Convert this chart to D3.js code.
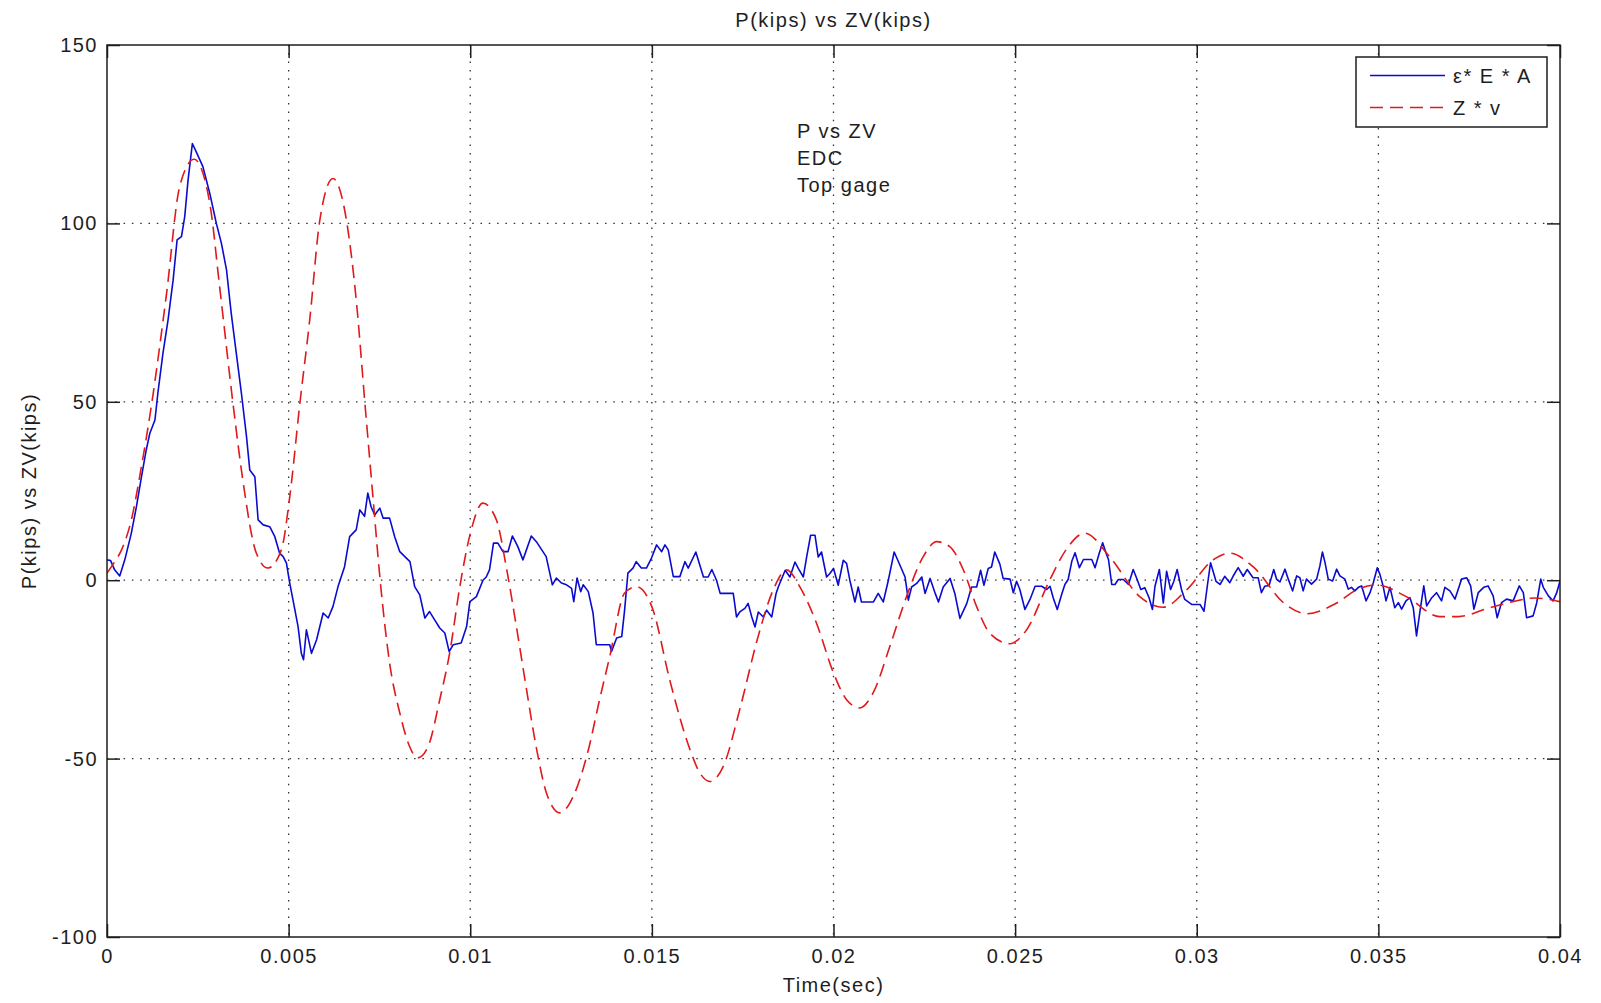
<!DOCTYPE html>
<html>
<head>
<meta charset="utf-8">
<script src="https://cdn.jsdelivr.net/npm/d3@7"></script>
<style>
  html, body { margin: 0; padding: 0; background: #fff; }
  svg text { font-family: "Liberation Sans", Arial, sans-serif; letter-spacing: 1.5px; fill: #1e1e1e; }
</style>
</head>
<body>
<svg id="chart" width="1601" height="1003"></svg>
<script>
// ---------- data ----------
const titleText = "P(kips) vs ZV(kips)";
const xLabelText = "Time(sec)";
const yLabelText = "P(kips) vs ZV(kips)";
const noteLines = ["P vs ZV", "EDC", "Top gage"];
const seriesNames = ["\u03b5* E * A", "Z * v"];

const xTickValues = [0, 0.005, 0.01, 0.015, 0.02, 0.025, 0.03, 0.035, 0.04];
const xTickLabels = ["0", "0.005", "0.01", "0.015", "0.02", "0.025", "0.03", "0.035", "0.04"];
const yTickValues = [-100, -50, 0, 50, 100, 150];
const yTickLabels = ["-100", "-50", "0", "50", "100", "150"];

// Z * v (red dashed)
const zvTime = [0, 0.0002, 0.0004, 0.00067, 0.00095, 0.00122, 0.00164, 0.002, 0.0024, 0.00283, 0.0031, 0.00347, 0.00374, 0.00411, 0.00443, 0.0048, 0.00503, 0.00531, 0.00558, 0.00586, 0.00622, 0.00659, 0.00687, 0.0071, 0.00732, 0.00752, 0.00778, 0.00806, 0.00833, 0.00855, 0.00884, 0.00916, 0.00944, 0.00971, 0.00998, 0.01035, 0.01072, 0.01099, 0.01127, 0.01155, 0.01182, 0.0121, 0.01247, 0.01283, 0.01324, 0.01356, 0.01384, 0.01425, 0.01458, 0.01503, 0.01549, 0.01605, 0.01632, 0.0166, 0.01696, 0.01744, 0.0179, 0.01834, 0.01871, 0.01907, 0.01953, 0.02, 0.02036, 0.02072, 0.02109, 0.02155, 0.02201, 0.02247, 0.02284, 0.0232, 0.02357, 0.02394, 0.0243, 0.02485, 0.02531, 0.02595, 0.0264, 0.02692, 0.0276, 0.02843, 0.02907, 0.02972, 0.03045, 0.03091, 0.03155, 0.03242, 0.03302, 0.03385, 0.0344, 0.03495, 0.03577, 0.03669, 0.0372, 0.03798, 0.0387, 0.0393, 0.04];
const zvKips = [2, 5, 8.5, 16.9, 32, 48.8, 80.4, 110.3, 118, 105.6, 82.3, 49.4, 28, 7.6, 3.4, 8.5, 23.3, 49.6, 72.9, 101, 112.6, 101, 77.6, 49.6, 23.5, 0, -23.2, -37.2, -46.6, -49.8, -46.6, -33.5, -20, -2, 12.2, 21.6, 16.9, 3.8, -13, -30.7, -47, -59.7, -65.2, -60.7, -48, -33.5, -21.4, -3.6, -1.8, -8.3, -27.9, -47.5, -54, -56.4, -52.3, -35.4, -16.7, -2.7, 2.9, -1.8, -12, -26, -33.5, -35.8, -31.6, -18.6, -4.6, 6.6, 10.8, 9.4, 3, -7.4, -14.8, -17.8, -14, 0, 8.5, 13.2, 6.6, -4.6, -7.6, -2.7, 5.7, 7.6, 3.8, -6.6, -9.4, -6.4, -2.7, -1.3, -4.6, -10.2, -10.2, -8, -6, -5, -6];

// eps * E * A (blue solid)
const peaTime = [0, 0.0001, 0.00021, 0.00035, 0.00049, 0.00067, 0.00081, 0.00095, 0.00108, 0.00118, 0.00132, 0.0014, 0.00154, 0.00168, 0.00182, 0.00193, 0.00205, 0.00214, 0.00223, 0.00235, 0.00246, 0.00264, 0.00283, 0.00301, 0.00315, 0.00329, 0.00342, 0.00356, 0.0037, 0.00384, 0.00393, 0.00407, 0.00416, 0.0043, 0.00448, 0.00462, 0.00475, 0.00485, 0.00494, 0.00503, 0.00512, 0.00526, 0.00535, 0.00541, 0.00549, 0.00563, 0.00577, 0.00595, 0.00609, 0.00622, 0.00636, 0.00654, 0.00668, 0.00686, 0.00696, 0.00709, 0.00718, 0.00727, 0.00737, 0.00751, 0.0076, 0.00778, 0.00792, 0.00806, 0.0082, 0.00834, 0.00847, 0.00861, 0.00875, 0.00888, 0.00902, 0.00916, 0.0093, 0.00942, 0.00953, 0.00975, 0.0099, 0.00999, 0.01017, 0.01035, 0.01044, 0.01053, 0.01064, 0.01076, 0.0109, 0.01104, 0.01116, 0.01131, 0.01145, 0.01168, 0.01182, 0.012, 0.01209, 0.01226, 0.01237, 0.01251, 0.01265, 0.01279, 0.01285, 0.01294, 0.01304, 0.01311, 0.01325, 0.01338, 0.01347, 0.01366, 0.01384, 0.01389, 0.01403, 0.01417, 0.01425, 0.01434, 0.01448, 0.01457, 0.01471, 0.01485, 0.01499, 0.01513, 0.01527, 0.01536, 0.01545, 0.01559, 0.01577, 0.01591, 0.016, 0.01621, 0.01642, 0.01655, 0.01665, 0.01678, 0.01688, 0.01724, 0.01733, 0.01742, 0.01756, 0.01765, 0.01775, 0.01784, 0.01793, 0.01807, 0.01816, 0.0183, 0.01842, 0.01848, 0.01867, 0.0188, 0.01894, 0.01903, 0.01917, 0.01926, 0.01937, 0.01949, 0.01958, 0.01967, 0.01981, 0.0199, 0.02, 0.02013, 0.02027, 0.02036, 0.02045, 0.02059, 0.02068, 0.02077, 0.0211, 0.02123, 0.02137, 0.02151, 0.02167, 0.02183, 0.02197, 0.02206, 0.02215, 0.02229, 0.02243, 0.02252, 0.02266, 0.0228, 0.02289, 0.02302, 0.02321, 0.02334, 0.02348, 0.02367, 0.0238, 0.02394, 0.02405, 0.02414, 0.02426, 0.02435, 0.02444, 0.02458, 0.02467, 0.02486, 0.02495, 0.02504, 0.02513, 0.02527, 0.02541, 0.02555, 0.02573, 0.02587, 0.02596, 0.02605, 0.02616, 0.02628, 0.02637, 0.02646, 0.02656, 0.02665, 0.02677, 0.02688, 0.02711, 0.0272, 0.02732, 0.02741, 0.0275, 0.02757, 0.02766, 0.02775, 0.02784, 0.02798, 0.02812, 0.02825, 0.02836, 0.02846, 0.02857, 0.02869, 0.02878, 0.02885, 0.02897, 0.02908, 0.02917, 0.02928, 0.02937, 0.02946, 0.02958, 0.02967, 0.02986, 0.03009, 0.0302, 0.03029, 0.03038, 0.03045, 0.03053, 0.03064, 0.03077, 0.03091, 0.031, 0.03114, 0.03128, 0.03139, 0.03155, 0.03169, 0.03178, 0.03187, 0.03199, 0.03212, 0.0322, 0.03229, 0.03243, 0.03252, 0.03264, 0.03275, 0.03284, 0.03293, 0.03302, 0.03316, 0.0333, 0.03339, 0.03346, 0.03353, 0.03362, 0.03374, 0.03385, 0.03394, 0.03408, 0.03417, 0.03426, 0.03435, 0.03445, 0.03454, 0.03466, 0.03477, 0.03486, 0.03497, 0.03504, 0.03513, 0.03521, 0.03532, 0.03545, 0.03555, 0.03564, 0.03576, 0.03587, 0.03596, 0.03605, 0.03614, 0.03625, 0.03633, 0.03647, 0.0366, 0.03674, 0.03683, 0.03697, 0.03711, 0.03729, 0.03743, 0.03754, 0.03763, 0.03775, 0.0379, 0.03802, 0.03816, 0.03827, 0.03839, 0.03853, 0.03871, 0.03888, 0.03899, 0.03908, 0.03926, 0.03936, 0.03947, 0.03954, 0.03968, 0.03981, 0.03991, 0.04];
const peaKips = [5.7, 5.5, 2.9, 1.2, 5.7, 13.2, 20.6, 29, 36.5, 41.2, 44.9, 52.4, 63.6, 72.9, 84.1, 95.4, 96.3, 101.9, 112, 122.4, 120, 115.9, 108.4, 100, 94.4, 87, 74.8, 63.6, 52.4, 40.3, 30.9, 29, 16.9, 15.5, 15, 12.2, 7.6, 6.6, 4.8, -0.8, -5.5, -13, -20.5, -22.3, -13.9, -20.5, -16.7, -9.2, -10.6, -7.4, -1.8, 3.8, 12.2, 14.1, 19.7, 17.9, 24.4, 20.6, 18.3, 20.2, 17.4, 17.4, 12.2, 8, 6.6, 5.2, -1.8, -4.1, -10.6, -8.8, -11.1, -13.4, -14.8, -20, -18.1, -17.6, -13, -6, -4.6, 0, 0.9, 2.9, 10.4, 10.4, 8, 8, 12.4, 9.4, 5.7, 12.4, 10.8, 8, 6.6, -1.3, 0.6, -0.8, -1.3, -2.3, -6, 0.6, -3.2, -1.3, -3.2, -9.2, -18.1, -18.1, -18.1, -20, -16.2, -15.8, -8.3, 2, 3.4, 5.2, 3.4, 3.4, 6.2, 9.9, 8, 9.9, 8.5, 1, 1, 5.2, 3.4, 7.9, 0.9, 0.9, 3, 0, -3.7, -3.7, -10.3, -8.9, -7.9, -6.5, -10.3, -13.1, -8.9, -10.3, -8.4, -10.3, -3.7, -1.9, 2.8, 0.9, 5.1, 3.3, 0.9, 6.5, 12.6, 12.6, 6.5, 7.9, 0.9, 1.9, 3.3, -1.4, 5.6, 4.7, 0, -6.1, -1.9, -6.1, -6.1, -3.7, -6.1, 0, 7.9, 4.2, 0.9, -5.6, -1.9, -0.9, 0.9, -3.7, 0.5, -3.7, -6.1, -1.9, 0.5, -3.7, -10.7, -6.5, -1.9, -1.9, 2.8, -1.4, 3.3, 3.7, 7.9, 4.5, 0.5, 0.3, -3.5, -0.3, -2.6, -8.2, -5.4, -1.7, -1.7, -2.6, -1.7, -5, -8.2, -4, -1.2, 0.2, 5.3, 7.7, 3.5, 5.8, 5.8, 3.5, 7.7, 10.5, 7.7, 5.8, -1.2, -1.2, 0.2, 0.2, -1.2, 3, 0.2, -2.6, -2.1, -5, -8.2, -1.7, 3, -6.4, 2.5, -2.6, -0.3, 3, -2.6, -5.4, -6.8, -6.8, -8.7, -1.7, 4.9, 2.5, -0.3, -1.2, 1.1, -0.7, 1.1, 3.5, 1.1, 3, 0.7, 0.7, -3.5, -1.7, -1.5, 3, 0.2, -0.5, 3.1, 0.3, -3, 1.2, 0.7, -3, 0.3, -1.1, 0.3, 4, 7.9, 5, 0.3, -0.2, 3.1, 1.2, 0.3, -2.5, -2, -3, -2, -1.6, -5.8, -3.5, -0.7, 3.5, 1.7, -1.6, -5.8, -2, -7.7, -6.3, -8.1, -5.8, -4.9, -7.7, -15.6, -9.1, -1.6, -7.2, -4.9, -3.5, -5.8, -2, -3, -5.3, 0.3, 0.7, -1.6, -8.1, -3.5, -2, -1.6, -4.4, -10.5, -6.3, -5.3, -5.8, -1.6, -3.5, -10.5, -10, -6.3, 0.3, -2, -4.4, -5.8, -3.5, -0.2];

// ---------- layout ----------
const M = { left: 107, top: 45 };
const W = 1453, H = 892;
const FONT = 20;
const blue = "#0b0bd0", red = "#e0191b", ink = "#1e1e1e";

const svg = d3.select("#chart");
svg.append("rect").attr("width", 1601).attr("height", 1003).attr("fill", "#fff");

const x = d3.scaleLinear().domain([0, 0.04]).range([0, W]);
const y = d3.scaleLinear().domain([-100, 150]).range([H, 0]);

const g = svg.append("g").attr("transform", `translate(${M.left},${M.top})`);

// grid
const grid = g.append("g").attr("stroke", "#333").attr("stroke-width", 1.3).attr("stroke-dasharray", "1.5,6.8");
grid.selectAll("line.gx").data(xTickValues.slice(1, -1)).join("line")
  .attr("x1", d => x(d)).attr("x2", d => x(d)).attr("y1", 0).attr("y2", H);
grid.selectAll("line.gy").data(yTickValues.slice(1, -1)).join("line")
  .attr("x1", 0).attr("x2", W).attr("y1", d => y(d)).attr("y2", d => y(d));

// clip
svg.append("clipPath").attr("id", "clip").append("rect").attr("width", W).attr("height", H);

const zvData = zvTime.map((t, i) => [t, zvKips[i]]);
const peaData = peaTime.map((t, i) => [t, peaKips[i]]);

const lineSmooth = d3.line().x(d => x(d[0])).y(d => y(d[1])).curve(d3.curveMonotoneX);
const lineRaw = d3.line().x(d => x(d[0])).y(d => y(d[1]));

const plot = g.append("g").attr("clip-path", "url(#clip)");
plot.append("path").datum(peaData).attr("d", lineRaw)
  .attr("fill", "none").attr("stroke", blue).attr("stroke-width", 1.6).attr("stroke-linejoin", "round");
plot.append("path").datum(zvData).attr("d", lineSmooth)
  .attr("fill", "none").attr("stroke", red).attr("stroke-width", 1.6).attr("stroke-dasharray", "13,7");

// axes
function styleAxis(sel) {
  sel.attr("font-family", "Liberation Sans, Arial, sans-serif").attr("font-size", FONT).attr("color", ink);
  sel.select(".domain").remove();
  sel.selectAll(".tick line").attr("stroke-width", 1.5);
}
g.append("g").attr("transform", `translate(0,${H})`)
  .call(d3.axisBottom(x).tickValues(xTickValues).tickFormat((d, i) => xTickLabels[i]).tickSizeInner(-13).tickSizeOuter(0).tickPadding(12))
  .call(styleAxis);
g.append("g")
  .call(d3.axisTop(x).tickValues(xTickValues).tickFormat("").tickSizeInner(-13).tickSizeOuter(0))
  .call(styleAxis);
g.append("g")
  .call(d3.axisLeft(y).tickValues(yTickValues).tickFormat((d, i) => yTickLabels[i]).tickSizeInner(-13).tickSizeOuter(0).tickPadding(9))
  .call(styleAxis);
g.append("g").attr("transform", `translate(${W},0)`)
  .call(d3.axisRight(y).tickValues(yTickValues).tickFormat("").tickSizeInner(-13).tickSizeOuter(0))
  .call(styleAxis);

// box
g.append("rect").attr("width", W).attr("height", H).attr("fill", "none").attr("stroke", ink).attr("stroke-width", 1.5);

// annotation
g.append("g").selectAll("text").data(noteLines).join("text")
  .attr("x", 797 - M.left).attr("y", (d, i) => 137.5 - M.top + i * 27.2)
  .attr("font-size", FONT).text(d => d);

// titles
svg.append("text").attr("x", M.left + W / 2).attr("y", 27).attr("text-anchor", "middle")
  .attr("font-size", FONT).text(titleText);
svg.append("text").attr("x", M.left + W / 2).attr("y", 992).attr("text-anchor", "middle")
  .attr("font-size", FONT).text(xLabelText);
svg.append("text").attr("transform", `translate(36,${M.top + H / 2}) rotate(-90)`).attr("text-anchor", "middle")
  .attr("font-size", FONT).text(yLabelText);

// legend
const leg = svg.append("g");
leg.append("rect").attr("x", 1356).attr("y", 57).attr("width", 191).attr("height", 70)
  .attr("fill", "#fff").attr("stroke", ink).attr("stroke-width", 1.5);
const legItems = [
  { name: seriesNames[0], color: blue, dash: null, yy: 75.5 },
  { name: seriesNames[1], color: red, dash: "13,7", yy: 107.5 }
];
legItems.forEach(it => {
  leg.append("line").attr("x1", 1370).attr("x2", 1445).attr("y1", it.yy).attr("y2", it.yy)
    .attr("stroke", it.color).attr("stroke-width", 1.6).attr("stroke-dasharray", it.dash);
  leg.append("text").attr("x", 1453).attr("y", it.yy + 7.5).attr("font-size", FONT).text(it.name);
});
</script>
</body>
</html>
